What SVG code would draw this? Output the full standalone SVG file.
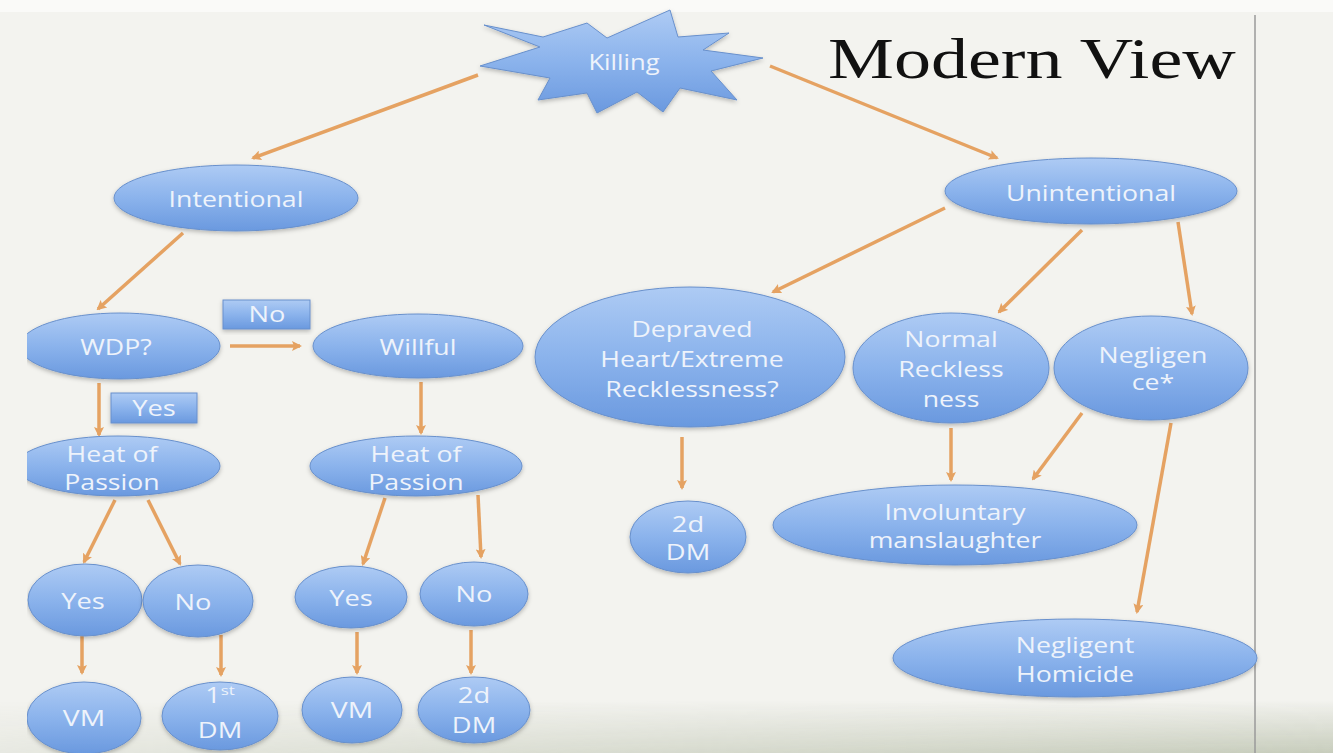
<svg xmlns="http://www.w3.org/2000/svg" width="1333" height="753" viewBox="0 0 1333 753">
<defs>
<linearGradient id="gBlue" x1="0" y1="0" x2="0" y2="1">
<stop offset="0" stop-color="#aecbf4"/>
<stop offset="0.5" stop-color="#8bb3ec"/>
<stop offset="1" stop-color="#6a99df"/>
</linearGradient>
<linearGradient id="gBottom" x1="0" y1="0" x2="0" y2="1">
<stop offset="0" stop-color="#aab39a" stop-opacity="0"/>
<stop offset="1" stop-color="#aab39a" stop-opacity="0.6"/>
</linearGradient>
<linearGradient id="gFadeX" x1="0" y1="0" x2="1" y2="0">
<stop offset="0" stop-color="#fff" stop-opacity="0.25"/>
<stop offset="0.45" stop-color="#fff" stop-opacity="0.6"/>
<stop offset="1" stop-color="#fff" stop-opacity="1"/>
</linearGradient>
<mask id="mFade"><rect x="0" y="700" width="1333" height="53" fill="url(#gFadeX)"/></mask>
<filter id="sh" x="-10%" y="-10%" width="120%" height="130%">
<feDropShadow dx="0" dy="2" stdDeviation="2" flood-color="#000" flood-opacity="0.25"/>
</filter>
<clipPath id="edge"><rect x="27" y="0" width="1306" height="753"/></clipPath>
<marker id="ah" markerWidth="10" markerHeight="10" refX="8" refY="5" orient="auto" markerUnits="userSpaceOnUse">
<path d="M0,0 L10,5 L0,10 L2,5 z" fill="#e5a262"/>
</marker>
<style>
.n{fill:url(#gBlue);stroke:#6890cc;stroke-width:1;filter:url(#sh)}
.t{font-family:"Open Sans","DejaVu Sans",sans-serif;font-size:21px;fill:#eef3fb;text-anchor:middle}
.c{stroke:#e5a262;stroke-width:3.5;fill:none;marker-end:url(#ah)}
.sup{font-size:13px}
</style>
</defs>
<rect x="0" y="0" width="1333" height="753" fill="#f3f3ef"/>
<rect x="0" y="0" width="1333" height="12" fill="#fafaf8"/>
<rect x="0" y="700" width="1333" height="53" fill="url(#gBottom)" mask="url(#mFade)"/>
<line x1="1255" y1="15" x2="1255" y2="753" stroke="#9a9a9a" stroke-width="1.5"/>
<text x="0" y="78" transform="matrix(1.3 0 0 1 828 0)" font-family="Liberation Serif, serif" font-size="57" fill="#111">Modern View</text>

<g id="connectors">
<line class="c" x1="478" y1="75" x2="253" y2="158"/>
<line class="c" x1="770" y1="66" x2="997" y2="158"/>
<line class="c" x1="183" y1="233" x2="98" y2="309"/>
<line class="c" x1="230" y1="346" x2="300" y2="346"/>
<line class="c" x1="99" y1="383" x2="99" y2="435"/>
<line class="c" x1="421" y1="382" x2="421" y2="433"/>
<line class="c" x1="115" y1="500" x2="84" y2="562"/>
<line class="c" x1="148" y1="500" x2="180" y2="564"/>
<line class="c" x1="385" y1="498" x2="363" y2="564"/>
<line class="c" x1="478" y1="495" x2="481" y2="557"/>
<line class="c" x1="82" y1="636" x2="82" y2="673"/>
<line class="c" x1="221" y1="635" x2="221" y2="675"/>
<line class="c" x1="357" y1="632" x2="357" y2="673"/>
<line class="c" x1="471" y1="630" x2="471" y2="673"/>
<line class="c" x1="945" y1="208" x2="773" y2="292"/>
<line class="c" x1="1082" y1="230" x2="999" y2="312"/>
<line class="c" x1="1178" y1="222" x2="1192" y2="314"/>
<line class="c" x1="682" y1="437" x2="682" y2="488"/>
<line class="c" x1="951" y1="428" x2="951" y2="480"/>
<line class="c" x1="1082" y1="413" x2="1033" y2="479"/>
<line class="c" x1="1171" y1="423" x2="1137" y2="612"/>
</g>

<g clip-path="url(#edge)">
<g id="killing">
<polygon class="n" points="480,66 540,47 484,25 543,37 587,23 607,38 670,10 678,37 729,33 703,50 763,58 711,71 737,100 680,88 663,112 637,92 597,113 587,93 538,100 550,78"/>
<text class="t" transform="matrix(1.22 0 0 1 624 0)" x="0" y="70">Killing</text>
</g>
<g id="intentional">
<ellipse class="n" cx="236" cy="198" rx="122" ry="33"/>
<text class="t" transform="matrix(1.27 0 0 1 236 0)" x="0" y="207">Intentional</text>
</g>
<g id="unintentional">
<ellipse class="n" cx="1091" cy="191" rx="146" ry="33"/>
<text class="t" transform="matrix(1.27 0 0 1 1091 0)" x="0" y="201">Unintentional</text>
</g>
<g id="wdp">
<ellipse class="n" cx="120" cy="346" rx="100" ry="33"/>
<text class="t" transform="matrix(1.27 0 0 1 116 0)" x="0" y="355">WDP?</text>
</g>
<g id="label-no">
<rect class="n" x="223" y="300" width="87" height="29"/>
<text class="t" transform="matrix(1.3 0 0 1 267 0)" x="0" y="322">No</text>
</g>
<g id="label-yes">
<rect class="n" x="111" y="393" width="86" height="30"/>
<text class="t" transform="matrix(1.3 0 0 1 154 0)" x="0" y="416">Yes</text>
</g>
<g id="willful">
<ellipse class="n" cx="418" cy="346" rx="105" ry="32"/>
<text class="t" transform="matrix(1.27 0 0 1 418 0)" x="0" y="355">Willful</text>
</g>
<g id="heat-left">
<ellipse class="n" cx="118" cy="466" rx="102" ry="30"/>
<text class="t" transform="matrix(1.27 0 0 1 112 0)"><tspan x="0" y="462">Heat of</tspan><tspan x="0" y="490">Passion</tspan></text>
</g>
<g id="heat-right">
<ellipse class="n" cx="416" cy="466" rx="106" ry="30"/>
<text class="t" transform="matrix(1.27 0 0 1 416 0)"><tspan x="0" y="462">Heat of</tspan><tspan x="0" y="490">Passion</tspan></text>
</g>
<g id="yes-left">
<ellipse class="n" cx="85" cy="600" rx="57" ry="36"/>
<text class="t" transform="matrix(1.3 0 0 1 83 0)" x="0" y="609">Yes</text>
</g>
<g id="no-left">
<ellipse class="n" cx="198" cy="601" rx="55" ry="36"/>
<text class="t" transform="matrix(1.3 0 0 1 193 0)" x="0" y="610">No</text>
</g>
<g id="yes-right">
<ellipse class="n" cx="351" cy="597" rx="56" ry="31"/>
<text class="t" transform="matrix(1.3 0 0 1 351 0)" x="0" y="606">Yes</text>
</g>
<g id="no-right">
<ellipse class="n" cx="474" cy="594" rx="54" ry="32"/>
<text class="t" transform="matrix(1.3 0 0 1 474 0)" x="0" y="602">No</text>
</g>
<g id="vm-left">
<ellipse class="n" cx="84" cy="718" rx="57" ry="36"/>
<text class="t" transform="matrix(1.35 0 0 1 84 0)" x="0" y="726">VM</text>
</g>
<g id="dm1">
<ellipse class="n" cx="220" cy="716" rx="58" ry="34"/>
<text class="t" transform="matrix(1.3 0 0 1 220 0)"><tspan x="0" y="703">1<tspan class="sup" dy="-8">st</tspan></tspan><tspan x="0" y="738">DM</tspan></text>
</g>
<g id="vm-right">
<ellipse class="n" cx="352" cy="710" rx="50" ry="33"/>
<text class="t" transform="matrix(1.35 0 0 1 352 0)" x="0" y="718">VM</text>
</g>
<g id="dm2-left">
<ellipse class="n" cx="474" cy="710" rx="56" ry="33"/>
<text class="t" transform="matrix(1.3 0 0 1 474 0)"><tspan x="0" y="703">2d</tspan><tspan x="0" y="733">DM</tspan></text>
</g>
<g id="depraved">
<ellipse class="n" cx="690" cy="357" rx="155" ry="70"/>
<text class="t" transform="matrix(1.27 0 0 1 692 0)"><tspan x="0" y="337">Depraved</tspan><tspan x="0" y="367">Heart/Extreme</tspan><tspan x="0" y="397">Recklessness?</tspan></text>
</g>
<g id="normal">
<ellipse class="n" cx="951" cy="368" rx="98" ry="55"/>
<text class="t" transform="matrix(1.27 0 0 1 951 0)"><tspan x="0" y="347">Normal</tspan><tspan x="0" y="377">Reckless</tspan><tspan x="0" y="407">ness</tspan></text>
</g>
<g id="negligence">
<ellipse class="n" cx="1151" cy="368" rx="97" ry="52"/>
<text class="t" transform="matrix(1.27 0 0 1 1153 0)"><tspan x="0" y="363">Negligen</tspan><tspan x="0" y="390">ce*</tspan></text>
</g>
<g id="dm2-right">
<ellipse class="n" cx="688" cy="537" rx="58" ry="36"/>
<text class="t" transform="matrix(1.3 0 0 1 688 0)"><tspan x="0" y="532">2d</tspan><tspan x="0" y="560">DM</tspan></text>
</g>
<g id="involuntary">
<ellipse class="n" cx="955" cy="525" rx="182" ry="40"/>
<text class="t" transform="matrix(1.27 0 0 1 955 0)"><tspan x="0" y="520">Involuntary</tspan><tspan x="0" y="548">manslaughter</tspan></text>
</g>
<g id="negligent-homicide">
<ellipse class="n" cx="1075" cy="658" rx="182" ry="39"/>
<text class="t" transform="matrix(1.27 0 0 1 1075 0)"><tspan x="0" y="653">Negligent</tspan><tspan x="0" y="682">Homicide</tspan></text>
</g>
</g>
</svg>
